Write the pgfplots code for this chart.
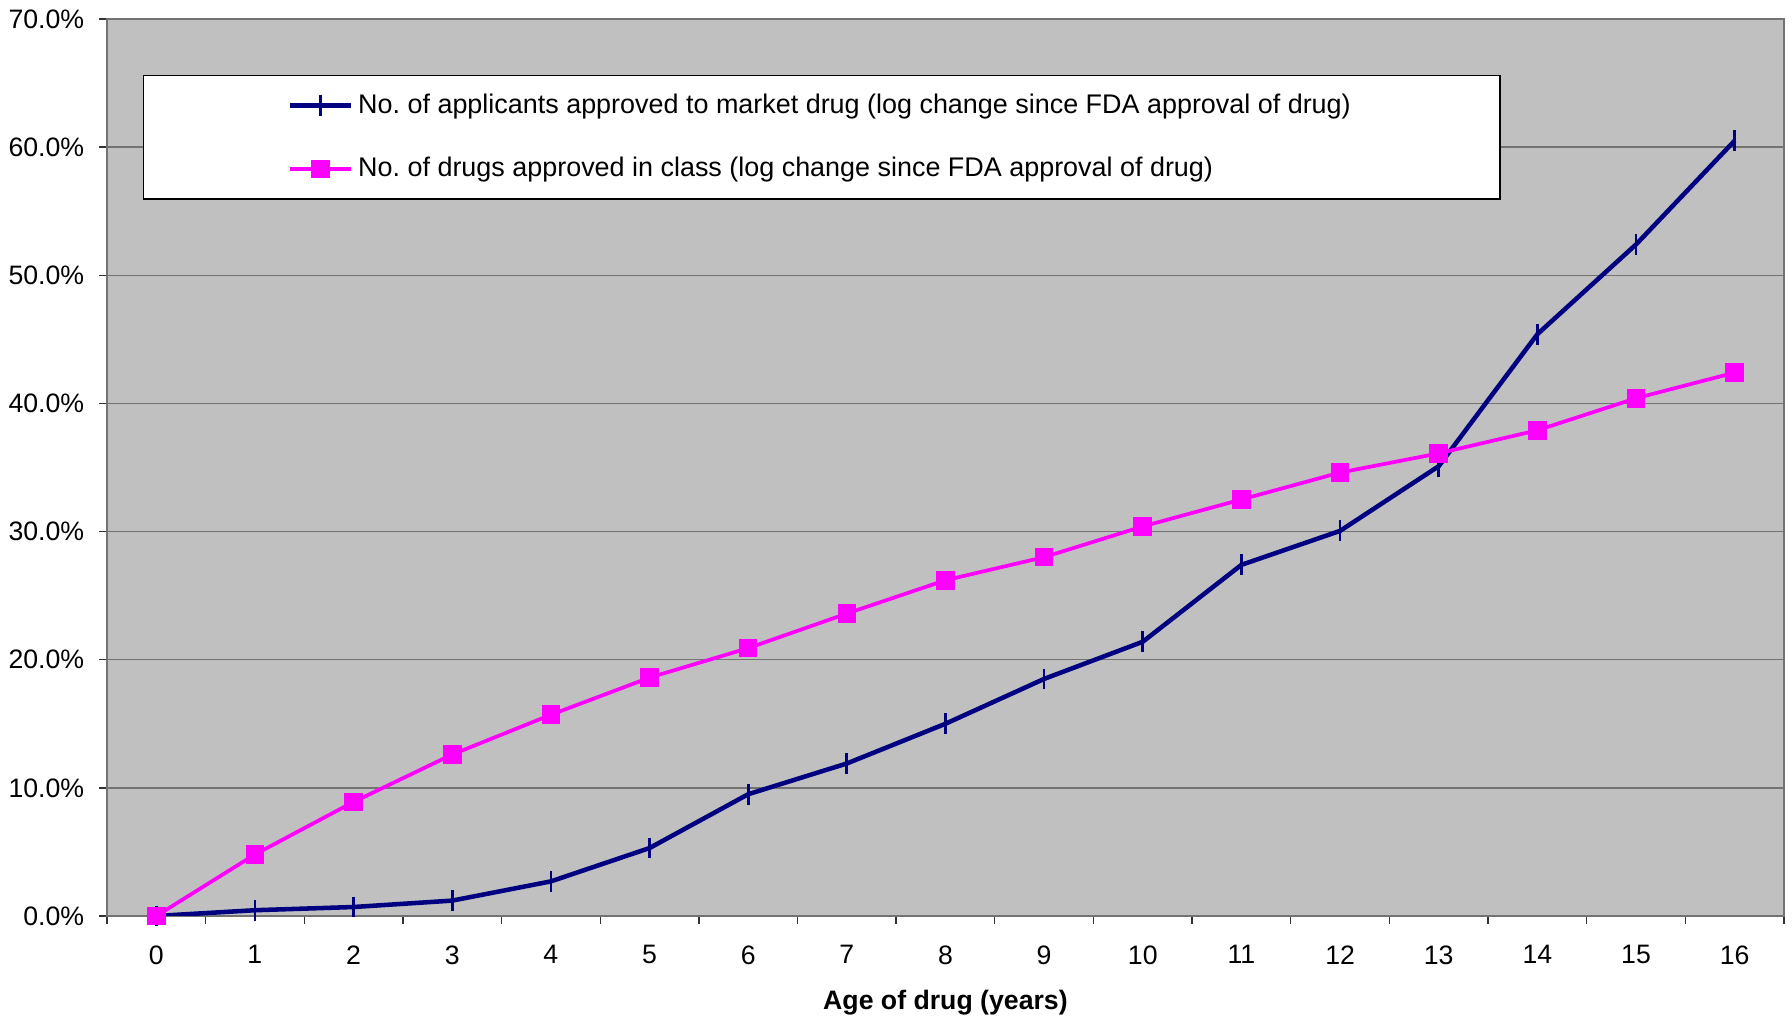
\documentclass[border=0pt]{standalone}
\usepackage{pgfplots}
\pgfplotsset{compat=1.18}
\usepackage{fontspec}
\setmainfont{Liberation Sans}
\frenchspacing
\definecolor{plotbg}{HTML}{C0C0C0}
\definecolor{navyline}{HTML}{000080}
\definecolor{pinkline}{HTML}{FF00FF}
\begin{document}
\begin{tikzpicture}
\begin{axis}[
    scale only axis,
    width=628.9pt, height=336.4pt,
    xmin=-0.5, xmax=16.5,
    ymin=0, ymax=70,
    xtick={-0.5,0.5,...,16.5},
    x tick label as interval=true,
    xticklabels={0,1,2,3,4,5,6,7,8,9,10,11,12,13,14,15,16},
    ytick={0,10,...,70},
    yticklabel={\pgfmathprintnumber[fixed,fixed zerofill,precision=1]{\tick}\%},
    /pgf/number format/assume math mode=true,
    tick align=outside,
    tick pos=left,
    major tick length=3pt,
    tick style={black!80, line width=0.5pt},
    ymajorgrids=true,
    grid style={black!55, line width=0.5pt},
    axis background/.style={fill=plotbg},
    axis line style={black!55, line width=0.6pt},
    font=\fontsize{10}{12}\selectfont,
    xticklabel style={yshift=-4.5pt},
    yticklabel style={xshift=-2pt},
    xlabel={\textbf{Age of drug (years)}},
    xlabel style={yshift=-3pt},
    legend cell align=left,
    legend style={at={(0.0215,0.9376)}, anchor=north west,
        draw=black, line width=0.5pt, fill=white,
        inner xsep=54pt, inner ysep=4.8pt, row sep=11pt,
        font=\fontsize{10.1}{12}\selectfont},
    legend image code/.code={\draw[mark repeat=2,mark phase=2] plot coordinates {(0cm,0cm)(0.4cm,0cm)(0.8cm,0cm)};},
]
\addplot[color=navyline, line width=1.7pt, mark=|, mark size=3.9pt,
    mark options={line width=1pt}]
    coordinates {
    (0,0)(1,0.45)(2,0.7)(3,1.2)(4,2.7)(5,5.3)(6,9.5)(7,11.9)(8,15.0)
    (9,18.5)(10,21.4)(11,27.4)(12,30.05)(13,35.1)(14,45.4)(15,52.4)(16,60.5)
    };
\addlegendentry{No. of applicants approved to market drug (log change since FDA approval of drug)}
\addplot[color=pinkline, line width=1.4pt, mark=square*, mark size=3.3pt,
    mark options={line width=0pt, fill=pinkline}]
    coordinates {
    (0,0)(1,4.8)(2,8.9)(3,12.6)(4,15.7)(5,18.6)(6,20.9)(7,23.6)(8,26.2)
    (9,28.0)(10,30.4)(11,32.5)(12,34.6)(13,36.1)(14,37.9)(15,40.4)(16,42.4)
    };
\addlegendentry{No. of drugs approved in class (log change since FDA approval of drug)}
\end{axis}
\pgfresetboundingbox
\path (current axis.south west) ++(-40.1pt,-38pt) coordinate (bbsw);
\path (current axis.north east) ++(3pt,7.1pt) coordinate (bbne);
\path (bbsw) rectangle (bbne);
\end{tikzpicture}
\end{document}
